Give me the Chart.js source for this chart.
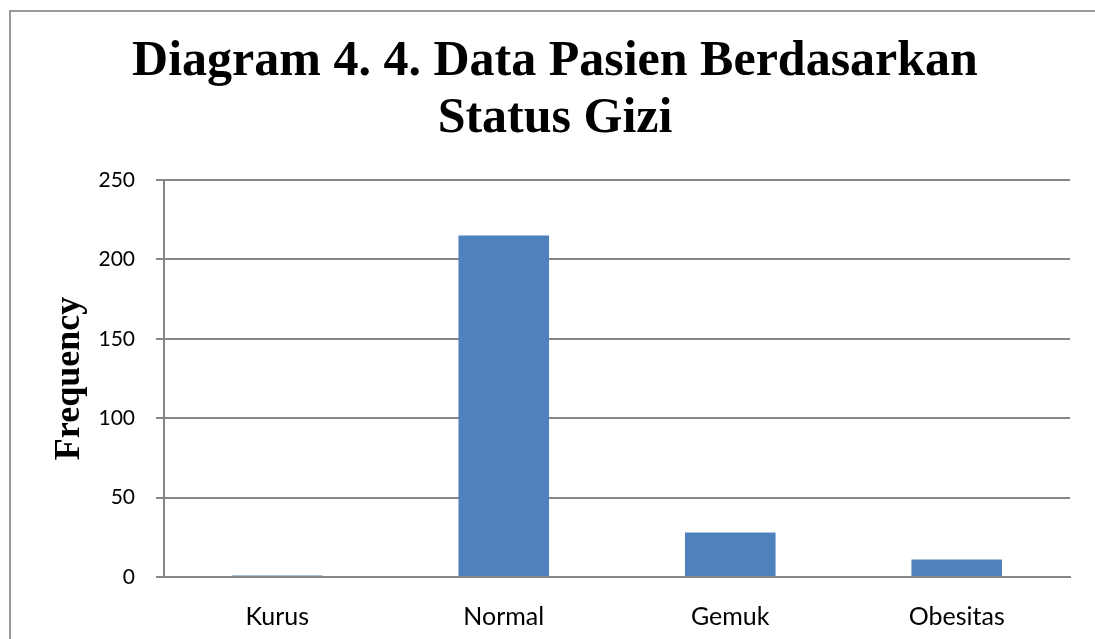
<!DOCTYPE html>
<html>
<head>
<meta charset="utf-8">
<script src="https://cdn.jsdelivr.net/npm/chart.js@4.4.1/dist/chart.umd.min.js"></script>
<style>
  html, body { margin: 0; padding: 0; background: #fff; overflow: hidden; }
  #frame { position: absolute; left: 9px; top: 10px; width: 2000px; height: 2000px;
           border-left: 2px solid #9a9a9a; border-top: 2px solid #9a9a9a; }
  #wrap { position: absolute; left: 0; top: 0; width: 1095px; height: 639px; }
</style>
</head>
<body>
<div id="frame"></div>
<div id="wrap"><canvas id="gizi_chart" width="1095" height="639"></canvas></div>
<script>
const categories = ['Kurus', 'Normal', 'Gemuk', 'Obesitas'];
const frequency = [1, 215, 28, 11];
const titleLines = ['Diagram 4. 4. Data Pasien Berdasarkan', 'Status Gizi'];
const yTicks = [0, 50, 100, 150, 200, 250];

const gridGray = '#868686';

function initGiziChart() {
    const ctx = document.getElementById('gizi_chart').getContext('2d');
    return new Chart(ctx, {
        type: 'bar',
        data: {
            labels: categories,
            datasets: [{
                label: 'Frequency',
                data: frequency,
                backgroundColor: '#4F81BD',
                borderWidth: 0,
                barPercentage: 0.4,
                categoryPercentage: 1.0
            }]
        },
        options: {
            responsive: false,
            animation: false,
            layout: { padding: { left: 40, right: 25, top: 0, bottom: 0 } },
            scales: {
                x: {
                    grid: { display: false, drawTicks: false },
                    border: { display: true, color: gridGray, width: 2 },
                    ticks: {
                        color: '#000',
                        padding: 25,
                        font: { family: 'Lato', size: 25 }
                    },
                    afterFit: scale => { scale.height = 62; }
                },
                y: {
                    min: 0,
                    max: 250,
                    afterBuildTicks: scale => { scale.ticks = yTicks.map(v => ({ value: v })); },
                    grid: { color: gridGray, lineWidth: 2, tickLength: 8, drawTicks: true },
                    border: { display: true, color: gridGray, width: 2 },
                    ticks: {
                        color: '#000',
                        padding: 21,
                        font: { family: 'Lato', size: 21 }
                    },
                    title: {
                        display: true,
                        text: 'Frequency',
                        color: '#000',
                        padding: { top: 23, bottom: 0 },
                        font: { family: 'Liberation Serif', size: 36, weight: 'bold', lineHeight: 0.4 }
                    },
                    afterFit: scale => { scale.width = 124; }
                }
            },
            plugins: {
                legend: { display: false },
                tooltip: { enabled: false },
                title: {
                    display: true,
                    text: titleLines,
                    color: '#000',
                    padding: { top: 34, bottom: 32 },
                    font: { family: 'Liberation Serif', size: 50, weight: 'bold', lineHeight: 1.14 }
                }
            }
        }
    });
}

const giziChart = initGiziChart();
</script>
</body>
</html>
